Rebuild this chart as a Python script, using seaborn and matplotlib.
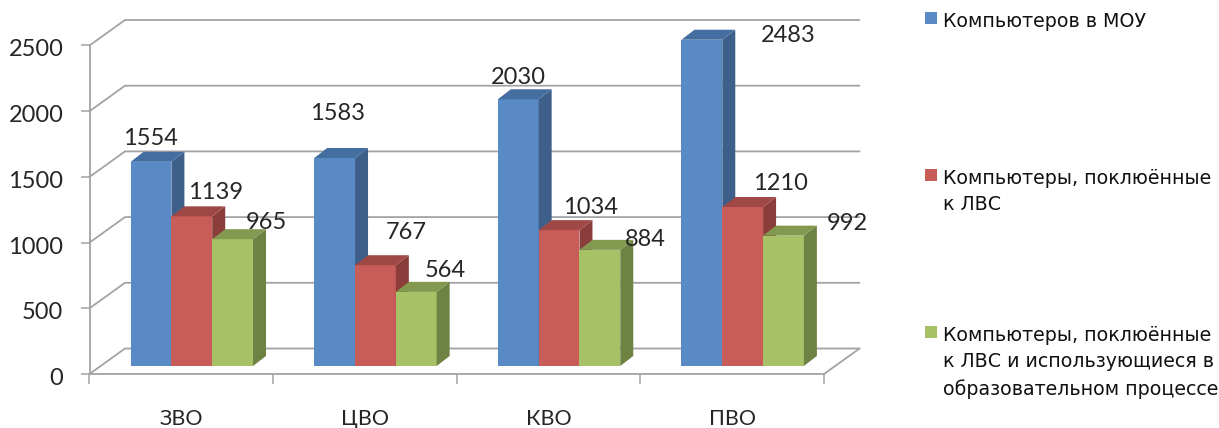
import matplotlib
matplotlib.use("Agg")
import matplotlib.pyplot as plt
from matplotlib.patches import Polygon
from matplotlib.transforms import Affine2D
import pandas as pd
import seaborn as sns

districts = ["ЗВО", "ЦВО", "КВО", "ПВО"]
computers_total = [1554, 1583, 2030, 2483]
computers_lan = [1139, 767, 1034, 1210]
computers_edu = [965, 564, 884, 992]
series_names = [
    "Компьютеров в МОУ\n",
    "Компьютеры, поклюённые\nк ЛВС",
    "Компьютеры, поклюённые\nк ЛВС и использующиеся в\nобразовательном процессе",
]
y_ticks = [0, 500, 1000, 1500, 2000, 2500]

front_colors = ["#5A8AC6", "#C85C59", "#A6C166"]
side_colors = ["#3D5F8A", "#8A3D3B", "#6E8244"]
top_colors = ["#446EA0", "#A04846", "#82994F"]
grid_color = "#A3A3A3"
text_color = "#262626"

# 3-D look, in pixels
WALL = (35.5, 25.5)     # back wall relative to the front plane
BAR_SHIFT = (10.5, 8)   # bars stand inside the floor
BAR_DEPTH = (13, 10)
# label offsets from the bar's top centre, pixels
label_offsets = {
    0: [(-1, 23), (3, 44), (0, 22), (86, 4)],
    1: [(24, 24), (31, 33), (31, 23), (38, 24)],
    2: [(34, 17), (29, 21), (45, 10), (64, 12)],
}

sns.set_theme(style="white")
plt.rcParams["font.family"] = ["Lato", "Open Sans", "DejaVu Sans"]

W, H = 1219, 428
fig = plt.figure(figsize=(W / 100, H / 100), dpi=100, facecolor="white")
ax = fig.add_axes([89.5 / W, 1 - 374 / H, (824 - 89.5) / W, (374 - 45.5) / H])

df = pd.DataFrame({
    "district": districts * 3,
    "series": sum([[n] * 4 for n in series_names], []),
    "value": computers_total + computers_lan + computers_edu,
})
sns.barplot(data=df, x="district", y="value", hue="series", order=districts,
            hue_order=series_names, palette=front_colors, saturation=1,
            width=2 / 3, gap=0, dodge=True, ax=ax, zorder=5, linewidth=0)

ax.set_xlim(-0.5, 3.5)
ax.set_ylim(0, 2500)
ax.set_xlabel("")
ax.set_ylabel("")
ax.set_facecolor("none")
for s in ("top", "right"):
    ax.spines[s].set_visible(False)
for s in ("left", "bottom"):
    ax.spines[s].set_color(grid_color)
    ax.spines[s].set_linewidth(1.3)

ax.set_yticks(y_ticks)
ax.tick_params(axis="y", which="major", left=True, length=6.2, width=1.1, color=grid_color,
               labelsize=17, labelcolor=text_color, pad=13)
for lab in ax.get_yticklabels():
    lab.set_transform(lab.get_transform() + Affine2D().translate(0.5, -2.5))
n = len(districts)
ax.set_xticks([i - 0.5 for i in range(n + 1)])
ax.set_xticklabels([])
ax.set_xticks(range(n), labels=districts, minor=True)
ax.tick_params(axis="x", which="major", bottom=True, length=7.5, width=1.1, color=grid_color)
ax.tick_params(axis="x", which="minor", bottom=False, length=0, labelsize=15.5,
               labelcolor=text_color, pad=25)

data_px = ax.transData
bar_trans = data_px + Affine2D().translate(*BAR_SHIFT)
wall_trans = data_px + Affine2D().translate(*WALL)
x0, x1 = ax.get_xlim()

# walls: gridlines running from the axis back and along the wall
for v in y_ticks:
    p0 = data_px.transform((x0, v))
    p1 = wall_trans.transform((x0, v))
    p2 = wall_trans.transform((x1, v))
    ax.plot([p0[0], p1[0], p2[0]], [p0[1], p1[1], p2[1]], color=grid_color, lw=1.3,
            transform=None, clip_on=False, zorder=1, solid_joinstyle="miter")
# floor edge on the right
p0 = data_px.transform((x1, 0))
p1 = wall_trans.transform((x1, 0))
ax.plot([p0[0], p1[0]], [p0[1], p1[1]], color=grid_color, lw=1.3, transform=None,
        clip_on=False, zorder=1)

handles, labels = ax.get_legend_handles_labels()
ax.get_legend().remove()

# bars: shift them, add the side and top faces
for k, cont in enumerate(ax.containers):
    for i, b in enumerate(cont):
        b.set_transform(bar_trans)
        b.set_clip_on(False)
        b.set_zorder(5 + k)
        x, w, h = b.get_x(), b.get_width(), b.get_height()
        dx, dy = BAR_DEPTH
        ftl = bar_trans.transform((x, h))
        ftr = bar_trans.transform((x + w, h))
        fbr = bar_trans.transform((x + w, 0))
        side = [ftr, fbr, fbr + (dx, dy), ftr + (dx, dy)]
        top = [ftl, ftr, ftr + (dx, dy), ftl + (dx, dy)]
        ax.add_patch(Polygon(side, closed=True, fc=side_colors[k], ec="none",
                             transform=None, clip_on=False, zorder=5 + k))
        ax.add_patch(Polygon(top, closed=True, fc=top_colors[k], ec="none",
                             transform=None, clip_on=False, zorder=5 + k))
        ox, oy = label_offsets[k][i]
        ax.annotate(f"{int(h)}", xy=(x + w / 2, h), xycoords=bar_trans,
                    xytext=(ox, oy), textcoords="offset pixels", ha="center", va="center",
                    fontsize=17, color=text_color, zorder=20, annotation_clip=False)

leg = fig.legend(handles, labels, loc="upper left", bbox_to_anchor=(925 / W, 1 - 12 / H),
                 frameon=False, fontsize=13.7, borderpad=0, borderaxespad=0,
                 handlelength=0.61, handleheight=0.61, handletextpad=0.33,
                 labelspacing=5.85, labelcolor="#111111")
for t in leg.get_texts():
    t.set_linespacing(1.5)
    t.set_family(["DejaVu Sans"])
for row in leg._legend_handle_box.get_children()[0].get_children():
    row.align = "top"

fig.savefig("out.png", dpi=100, facecolor="white")
